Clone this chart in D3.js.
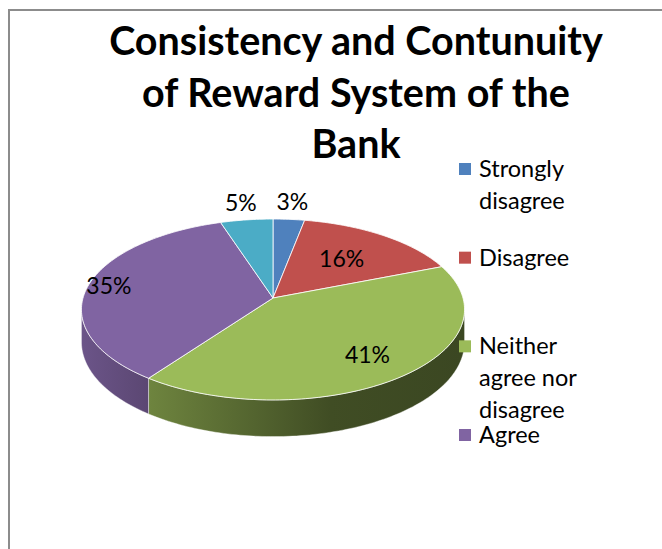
<!DOCTYPE html>
<html>
<head>
<meta charset="utf-8">
<script src="https://cdn.jsdelivr.net/npm/d3@7"></script>
<style>
  body { margin: 0; background: #fff; }
  svg { display: block; }
</style>
</head>
<body>
<div id="chart"></div>
<script>
// data
var categories = ["Strongly disagree", "Disagree", "Neither agree nor disagree", "Agree", "Strongly agree"];
var values = [3, 16, 41, 35, 5];
var colors = ["#4f81bd", "#c0504d", "#9bbb59", "#8064a2", "#4bacc6"];
var legendLines = [["Strongly", "disagree"], ["Disagree"], ["Neither", "agree nor", "disagree"], ["Agree"]];
var titleLines = ["Consistency and Contunuity", "of Reward System of the", "Bank"];

var W = 662, H = 549;
var font = "Lato, 'Open Sans', sans-serif";

var svg = d3.select("#chart").append("svg")
    .attr("width", W)
    .attr("height", H);

// chart frame, cut off at right and bottom like the original
svg.append("rect")
    .attr("x", 9).attr("y", 10)
    .attr("width", 720).attr("height", 620)
    .attr("fill", "#fff")
    .attr("stroke", "#8c8c8c")
    .attr("stroke-width", 2);

// title
svg.append("g").selectAll("text")
    .data(titleLines)
    .enter().append("text")
    .attr("x", 356)
    .attr("y", function(d, i) { return 55 + i * 51.5; })
    .attr("text-anchor", "middle")
    .style("font-family", font)
    .style("font-weight", "bold")
    .style("font-size", "39.5px")
    .text(function(d) { return d; });

// 3d pie with a little perspective
var cx = 273, cy = 298, rx = 190, ry = 89, depth = 32, persp = 0.127;

function project(a, t, h) {
    var u = Math.sin(a) * t, f = -Math.cos(a) * t;
    var k = 1 / (1 - persp * f);
    return [cx + rx * u * k, cy + ry * f * k + (h || 0) * k];
}

var pie = d3.pie().sort(null).value(function(d) { return d; });
var arcs = pie(values);

function arcPoints(a0, a1, h) {
    var n = Math.max(2, Math.ceil((a1 - a0) / 0.02));
    return d3.range(n + 1).map(function(i) { return project(a0 + (a1 - a0) * i / n, 1, h); });
}

var line = d3.line();
var defs = svg.append("defs");

// side wall shading: lighter at left, dark at right
var shade = d3.scaleLinear().domain([83, 153, 330, 463]).range([0.5, 1, 2.5, 2.7]);
arcs.forEach(function(d, i) {
    var g = defs.append("linearGradient")
        .attr("id", "side" + i)
        .attr("gradientUnits", "userSpaceOnUse")
        .attr("x1", 83).attr("x2", 463).attr("y1", 0).attr("y2", 0);
    shade.domain().forEach(function(x) {
        g.append("stop")
            .attr("offset", (x - 83) / (463 - 83))
            .attr("stop-color", d3.color(colors[i]).darker(shade(x)));
    });
});

var visLo = Math.acos(-persp) , visHi = 2 * Math.PI - Math.acos(-persp);
var sides = svg.append("g");
arcs.forEach(function(d, i) {
    var a0 = Math.max(d.startAngle, visLo), a1 = Math.min(d.endAngle, visHi);
    if (a1 <= a0) return;
    var pts = arcPoints(a0, a1, 0).concat(arcPoints(a0, a1, depth).reverse());
    sides.append("path")
        .attr("d", line(pts) + "Z")
        .attr("fill", "url(#side" + i + ")")
        .attr("stroke", "#fff")
        .attr("stroke-opacity", 0.5)
        .attr("stroke-width", 0.8);
});

var tops = svg.append("g");
arcs.forEach(function(d, i) {
    var pts = [[cx, cy]].concat(arcPoints(d.startAngle, d.endAngle, 0));
    tops.append("path")
        .attr("d", line(pts) + "Z")
        .attr("fill", colors[i])
        .attr("stroke", "#fff")
        .attr("stroke-opacity", 0.8)
        .attr("stroke-width", 1);
});

// data labels (excel best fit placement)
var labelRadius = [1.25, 0.6, 0.75, 0.89, 1.25];
svg.append("g").selectAll("text")
    .data(arcs)
    .enter().append("text")
    .attr("x", function(d, i) { return project((d.startAngle + d.endAngle) / 2, labelRadius[i])[0]; })
    .attr("y", function(d, i) { return project((d.startAngle + d.endAngle) / 2, labelRadius[i])[1]; })
    .attr("text-anchor", "middle")
    .attr("dy", "0.35em")
    .style("font-family", font)
    .style("font-size", "23px")
    .style("fill", "#000")
    .text(function(d) { return d.data + "%"; });

// legend (only four entries fit in the original)
var ly = d3.scaleLinear().domain([0, legendLines.length - 1]).range([169, 435]);
var legend = svg.append("g").selectAll("g")
    .data(legendLines)
    .enter().append("g")
    .attr("transform", function(d, i) { return "translate(459," + ly(i) + ")"; });

legend.append("rect")
    .attr("x", 0).attr("y", -6)
    .attr("width", 12).attr("height", 12)
    .attr("fill", function(d, i) { return colors[i]; });

legend.append("text")
    .attr("x", 20)
    .attr("y", 8)
    .style("font-family", font)
    .style("font-size", "23.5px")
    .selectAll("tspan")
    .data(function(d) { return d; })
    .enter().append("tspan")
    .attr("x", 20)
    .attr("dy", function(d, j) { return j ? 32 : 0; })
    .text(function(d) { return d; });
</script>
</body>
</html>
